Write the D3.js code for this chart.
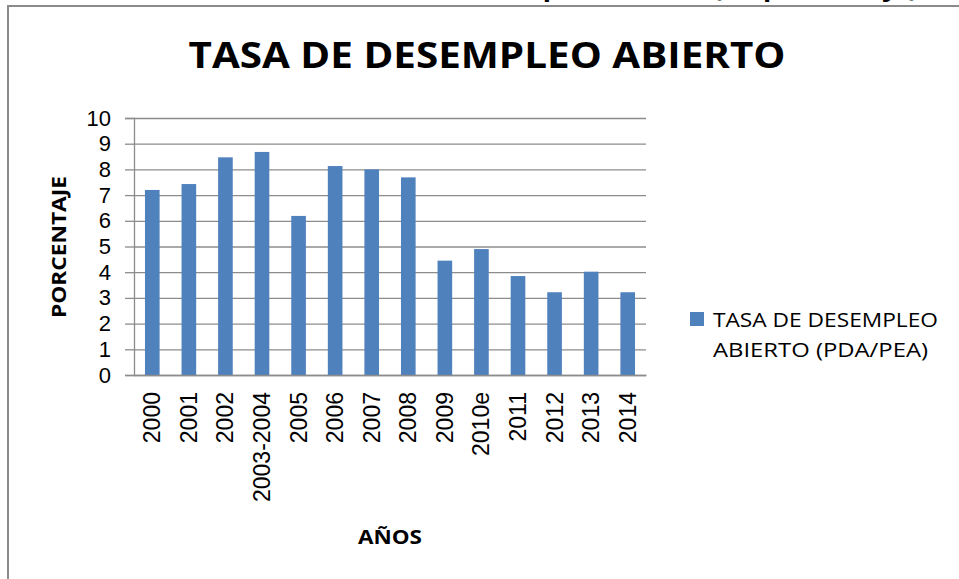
<!DOCTYPE html>
<html>
<head>
<meta charset="utf-8">
<script src="https://cdn.jsdelivr.net/npm/d3@7"></script>
<style>
  body { margin: 0; background: #fff; }
  svg { display: block; }
</style>
</head>
<body>
<div id="chart"></div>
<script>
// data
var years = ["2000", "2001", "2002", "2003-2004", "2005", "2006", "2007", "2008",
             "2009", "2010e", "2011", "2012", "2013", "2014"];
var tasa = [7.2, 7.43, 8.47, 8.68, 6.19, 8.13, 8.0, 7.69, 4.45, 4.9, 3.85, 3.22, 4.02, 3.22];
var yTicks = [0, 1, 2, 3, 4, 5, 6, 7, 8, 9, 10];
var seriesName = ["TASA DE DESEMPLEO", "ABIERTO (PDA/PEA)"];

var W = 959, H = 579;
var margin = {top: 118, left: 134},
    width = 646 - 134,
    height = 375 - 118;

var svg = d3.select("#chart").append("svg")
    .attr("width", W)
    .attr("height", H);

// cut off heading of the page above the chart
svg.append("text")
    .attr("x", 918)
    .attr("y", -4)
    .attr("text-anchor", "end")
    .style("font-family", "'Open Sans', sans-serif")
    .style("font-weight", "bold")
    .style("font-size", "27px")
    .text("Tasa de desempleo abierto (en porcentaje)");

// chart frame
svg.append("path")
    .attr("d", "M8," + (H + 5) + "V6H" + (W + 5))
    .attr("fill", "none")
    .attr("stroke", "#8a8a8a")
    .attr("stroke-width", 2);

svg.append("text")
    .attr("x", 487)
    .attr("y", 68)
    .attr("text-anchor", "middle")
    .attr("textLength", 597)
    .attr("lengthAdjust", "spacingAndGlyphs")
    .style("font-family", "'Open Sans', sans-serif")
    .style("font-weight", "bold")
    .style("font-size", "35px")
    .text("TASA DE DESEMPLEO ABIERTO");

var x = d3.scaleBand()
    .domain(years)
    .range([0, width])
    .paddingInner(0.6)
    .paddingOuter(0.3);

var y = d3.scaleLinear()
    .domain([0, 10])
    .range([height, 0]);

var g = svg.append("g")
    .attr("transform", "translate(" + margin.left + "," + margin.top + ")");

// gridlines
g.append("g")
    .attr("class", "grid")
    .call(d3.axisLeft(y).tickValues(yTicks).tickSize(-width).tickFormat(""))
    .call(function(s) {
      s.select(".domain").remove();
      s.selectAll("line").attr("stroke", "#8c8c8c").attr("stroke-width", 1.3);
    });

g.selectAll("rect.bar")
    .data(tasa)
    .enter().append("rect")
    .attr("class", "bar")
    .attr("x", function(d, i) { return x(years[i]); })
    .attr("y", function(d) { return y(d); })
    .attr("width", x.bandwidth())
    .attr("height", function(d) { return height - y(d); })
    .attr("fill", "#4f81bd");

// y axis
var yAxis = g.append("g")
    .call(d3.axisLeft(y).tickValues(yTicks).tickSize(9).tickPadding(14));
yAxis.select(".domain").attr("stroke", "#8c8c8c").attr("stroke-width", 1.3);
yAxis.selectAll("line").attr("stroke", "#8c8c8c").attr("stroke-width", 1.3);
yAxis.selectAll("text")
    .style("font-family", "'Liberation Sans', Arial, sans-serif")
    .style("font-size", "22px")
    .attr("fill", "#000");

// x axis
var xAxis = g.append("g")
    .attr("transform", "translate(0," + height + ")")
    .call(d3.axisBottom(x).tickSize(0).tickPadding(0));
xAxis.select(".domain").attr("stroke", "#8c8c8c").attr("stroke-width", 1.3);
xAxis.selectAll("text")
    .attr("transform", "translate(0,17) rotate(-90)")
    .attr("x", 0)
    .attr("y", 0)
    .attr("dy", "0.35em")
    .attr("text-anchor", "end")
    .style("font-family", "'Liberation Sans', Arial, sans-serif")
    .style("font-size", "23px")
    .attr("fill", "#000");

// axis titles
svg.append("text")
    .attr("transform", "translate(66,247) rotate(-90)")
    .attr("text-anchor", "middle")
    .attr("textLength", 142)
    .attr("lengthAdjust", "spacingAndGlyphs")
    .style("font-family", "'Open Sans', sans-serif")
    .style("font-weight", "bold")
    .style("font-size", "19px")
    .text("PORCENTAJE");

svg.append("text")
    .attr("x", 390)
    .attr("y", 544)
    .attr("text-anchor", "middle")
    .attr("textLength", 64)
    .attr("lengthAdjust", "spacingAndGlyphs")
    .style("font-family", "'Open Sans', sans-serif")
    .style("font-weight", "bold")
    .style("font-size", "19px")
    .text("AÑOS");

// legend
var legend = svg.append("g")
    .attr("transform", "translate(690,312)");
legend.append("rect")
    .attr("width", 14)
    .attr("height", 14)
    .attr("fill", "#4f81bd");
legend.selectAll("text")
    .data(seriesName)
    .enter().append("text")
    .attr("x", 23)
    .attr("y", function(d, i) { return 15 + i * 30; })
    .attr("textLength", function(d, i) { return i === 0 ? 225 : 215; })
    .attr("lengthAdjust", "spacingAndGlyphs")
    .style("font-family", "'Open Sans', sans-serif")
    .style("font-size", "20px")
    .attr("fill", "#000")
    .text(function(d) { return d; });
</script>
</body>
</html>
